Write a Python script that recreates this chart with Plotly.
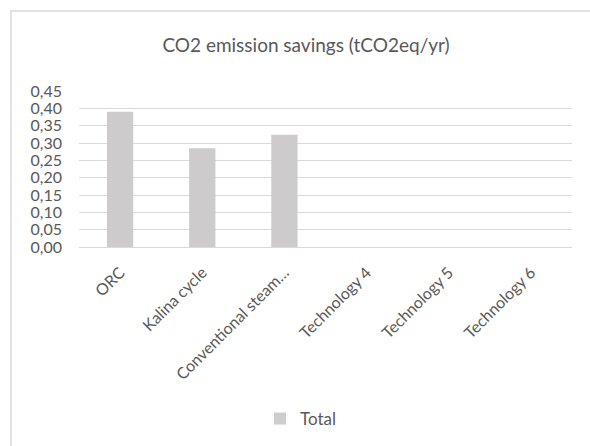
import plotly.graph_objects as go

categories = ["ORC", "Kalina cycle", "Conventional steam…",
              "Technology 4", "Technology 5", "Technology 6"]
totals = [0.39, 0.285, 0.324, None, None, None]
y_ticks = [0.0, 0.05, 0.10, 0.15, 0.20, 0.25, 0.30, 0.35, 0.40, 0.45]
y_tick_labels = ["0,00", "0,05", "0,10", "0,15", "0,20", "0,25",
                 "0,30", "0,35", "0,40", "0,45"]

W, H = 590, 446
L, R, T, B = 79, 18, 91, 199
FONT = "Lato, 'Open Sans', sans-serif"
TXT = "#595959"

fig = go.Figure()
fig.add_trace(go.Bar(
    x=categories, y=totals, name="Total",
    marker=dict(color="#CDCBCB", line=dict(width=0)),
    showlegend=True,
))

fig.update_layout(
    width=W, height=H,
    margin=dict(l=L, r=R, t=T, b=B, pad=0),
    paper_bgcolor="white", plot_bgcolor="white",
    bargap=0.68,
    font=dict(family=FONT, color=TXT, size=16),
    title=dict(text="CO2 emission savings (tCO2eq/yr)",
               x=306 / W, xanchor="center", xref="container",
               y=1 - 45 / H, yanchor="middle", yref="container",
               font=dict(size=19, color=TXT, family=FONT)),
    xaxis=dict(
        type="category", tickangle=-45, showgrid=False,
        showline=True, linecolor="#D9D9D9", linewidth=1,
        ticks="", tickfont=dict(size=16, color=TXT),
        ticklabelstandoff=9,
    ),
    yaxis=dict(
        range=[0, 0.45], tickvals=y_ticks, ticktext=y_tick_labels,
        showgrid=True, gridcolor="#D9D9D9", gridwidth=1,
        zeroline=False, showline=False, ticks="",
        tickfont=dict(size=16, color=TXT),
        ticklabelstandoff=16,
    ),
    legend=dict(orientation="h", x=0.5 + 6 / W, xanchor="center", xref="container",
                y=1 - 419 / H, yanchor="middle", yref="container",
                font=dict(size=17, color=TXT), itemwidth=30),
    shapes=[dict(type="rect", xref="paper", yref="paper",
                 x0=-(L - 11) / (W - L - R), x1=(W - L - 11 + 30) / (W - L - R),
                 y0=-(H - T - 11 + 30 - (H - T - B)) / (H - T - B),
                 y1=1 + (T - 11) / (H - T - B),
                 line=dict(color="#D9D9D9", width=1.5), layer="below")],
)

fig.write_html("out.html")
